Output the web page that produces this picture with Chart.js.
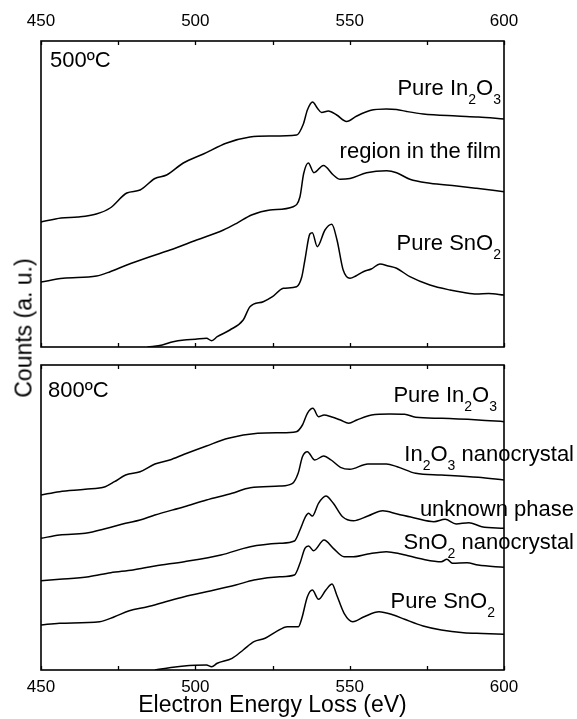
<!DOCTYPE html>
<html><head><meta charset="utf-8">
<script src="https://cdn.jsdelivr.net/npm/chart.js@4.4.0/dist/chart.umd.min.js"></script>
<style>
html,body{margin:0;padding:0;background:#fff;}
#wrap{position:relative;width:577px;height:719px;overflow:hidden;background:#fff;}
canvas{position:absolute;left:0;}
#cTop{top:0}
#cBot{top:356px}
#ylab{position:absolute;left:24px;top:328px;transform:translate(-50%,-50%) rotate(-90deg);font:23px "Liberation Sans",Arial,sans-serif;white-space:nowrap;color:#000;}
</style></head><body>
<div id="wrap">
<canvas id="cTop" width="577" height="356"></canvas>
<canvas id="cBot" width="577" height="363"></canvas>
<div id="ylab">Counts (a. u.)</div>
</div>
<script>
// ---- tick labels ----
const xTickLabels = [450, 500, 550, 600];
const xMin = 450, xMax = 600, xStep = 25;

// ---- 500 °C panel ----
const t500_In2O3_E = [450,456.5,462,467.9,472.4,477.8,482.1,486.9,490.7,496.1,502.6,510.2,517.7,524.2,532.8,535,536.3,538,539.5,540.9,543.1,545.8,549,552.3,556.6,561.9,565.2,568.5,573.8,584.7,591.7,600];
const t500_In2O3   = [125,129,130,133,139,154,157,168.5,172,184,193,204,210,211,212,223,237,245,239,234.5,236,232,225.5,231,236.5,238,237.5,235.5,233,231,230,228];

const t500_film_E = [450,457.2,468,472.4,477.8,485.3,491.8,500.4,509.1,513.4,518.2,524.2,531.7,533.9,535.1,536.6,538.4,541.5,544.7,546.9,550.1,555.5,562,565.2,569.5,576,584.7,591.1,600];
const t500_film   = [65,68.7,71,75.3,82,90.3,97,107,117,123.7,132,137,140.3,150.3,173.5,184,174.3,181.5,172,167.7,168.5,174.3,176.3,174.3,167.7,163.7,161,158.7,155.3];

const t500_SnO2_E = [484.5,489.3,492.8,496.4,500,503.6,505.3,507.1,511.2,515.5,517.7,522,525,528.5,532.8,534.5,535.5,537.1,537.9,539.5,542,544.2,545.9,547.9,550.1,552,554.4,557,559.8,562.5,565.2,569.5,576,582.5,587,591.1,595,600];
const t500_SnO2   = [0,2,5.3,7,7.7,8.7,6.3,10.3,17,27,40.3,45.3,50.3,58.7,60.3,70.3,87,113,114.3,100.3,117,122.7,107,77,68.7,71,75.3,78,83,81,78.7,70.3,62,57,54.5,53,53.5,52];

// ---- 800 °C panel ----
const t800_In2O3_E = [450,456,464.3,470.8,473.8,477.4,482.1,486.9,491.7,496.4,503.6,510.7,520.2,527.4,532.7,534.7,536.3,538.1,539.9,541.7,544,547,549.7,552.3,557.1,563,567.8,571.4,579.8,591.7,600];
const t800_In2O3   = [175,178.3,180.7,183.3,188.3,195,198.3,206,210,215.7,224,231.7,236.7,237.3,238.3,245,256.7,261.7,253.3,255,253.3,250,246.7,250,255,256,255.7,252.7,251.7,250,248.3];

const t800_InNano_E = [450,456,464.3,471.4,477.4,482.1,486.9,496.4,503.6,511.9,517.8,527.4,531.5,533.3,534.7,536.3,538.7,541.6,544,547,550,555.9,561.9,565.4,571.4,579.7,591.6,600];
const t800_InNano   = [131.7,135,136.7,141.7,146.7,150,155,163.3,170,176.7,182.3,184,186.7,196.7,213.3,218.3,210,214,210,202.7,200.7,206,206,203.3,196.7,195,192.7,190];

const t800_unknown_E = [450,456,465.5,472.6,479.8,486.9,496.4,508.3,517.8,527.4,532.1,533.9,535.7,536.7,537.9,539.9,542.3,544.7,547.7,551.2,555.9,560.7,565.4,571.4,577.3,580.9,584.5,588.6,592.8,600];
const t800_unknown   = [89.3,90.7,93.3,97.3,100,104,108.3,115,123.3,126.7,129,140,153.3,156.7,154,166.7,174,166.7,153.3,149.3,154,159.3,156,151.7,148.3,150.7,146,147.3,143.3,141.7];

const t800_SnNano_E = [450,456,469,473.8,478.6,484.5,489.3,496.4,503.6,513.1,519,527.4,532.1,533.9,535.5,536.7,538.3,541.7,544.7,548.2,551.2,555.9,561.9,566.6,573.8,579.7,581.5,583.3,588,591.6,600];
const t800_SnNano   = [45,46.7,48.3,53.3,59.3,63.3,67.3,73.3,78.3,85,90,93.3,95,106.7,121.7,124,119.3,130,121.7,113.3,113.3,116,118.3,116,110.7,108.3,110.7,106.7,107.3,105,102.7];

const t800_SnO2_E = [486.9,492.8,496.4,500,503.6,505.3,507.1,511.9,515.5,519,522.6,526.2,529.8,533.4,534.5,536.3,537.9,539.9,542.3,544.3,545.8,548.2,551,554.7,559.5,564.2,567.8,573.8,579.7,586.9,593,600];
const t800_SnO2   = [0,2.7,4,4.7,5,3.3,6.7,11.7,20,28.3,31.7,38.3,43.3,43.3,51.7,73.3,80,70.7,80,86,75,56.7,48.3,53.3,58.3,55,50.7,44,40,37.3,36.5,35.7];

// ---- helpers ----
function pts(E, V){ return E.map((x,i)=>({x:x, y:V[i]})); }
function ds(E, V){
  return {data: pts(E,V), borderColor:'#000', borderWidth:1.5, pointRadius:0,
          fill:false, cubicInterpolationMode:'monotone'};
}
const FONT = '"Liberation Sans", Arial, sans-serif';

const framePlugin = {
  id:'frame',
  afterDatasetsDraw(chart){
    const {ctx, chartArea:a, scales:{x}} = chart;
    ctx.save();
    ctx.strokeStyle = '#000';
    ctx.lineWidth = 1.3;
    x.ticks.forEach(t=>{
      const px = Math.round(x.getPixelForValue(t.value)) + 0.5;
      ctx.beginPath();
      ctx.moveTo(px, a.top); ctx.lineTo(px, a.top + 4);
      ctx.moveTo(px, a.bottom); ctx.lineTo(px, a.bottom - 4);
      ctx.stroke();
    });
    ctx.lineWidth = 1.6;
    ctx.strokeRect(a.left, a.top, a.right - a.left, a.bottom - a.top);
    ctx.restore();
  }
};

const labelPlugin = {
  id:'specLabels',
  afterDraw(chart, args, opts){
    const {ctx, chartArea:a} = chart;
    ctx.save();
    ctx.fillStyle = '#000';
    ctx.textBaseline = 'alphabetic';
    ctx.textAlign = 'left';
    (opts.items||[]).forEach(it=>{
      const segs = it.segs;
      let w = 0;
      segs.forEach(s=>{ ctx.font = (s[1] ? '14px ' : '22px ') + FONT; w += ctx.measureText(s[0]).width; });
      let x = it.anchor === 'left' ? a.left + it.dx : a.right + it.dx - w;
      const y = a.top + it.dy;
      segs.forEach(s=>{
        ctx.font = (s[1] ? '14px ' : '22px ') + FONT;
        ctx.fillText(s[0], x, s[1] ? y + 9 : y);
        x += ctx.measureText(s[0]).width;
      });
    });
    ctx.restore();
  }
};

function xScale(pos, extra){
  return Object.assign({
    type:'linear', position:pos, min:xMin, max:xMax,
    grid:{display:false, drawTicks:false}, border:{display:false},
    ticks:{stepSize:xStep, autoSkip:false, maxRotation:0, color:'#000',
      font:{family:FONT, size:17},
      callback:(v)=> xTickLabels.includes(v) ? String(v) : ''}
  }, extra);
}

function makeChart(id, datasets, opts){
  return new Chart(document.getElementById(id), {
    type:'line',
    data:{datasets: datasets},
    options:{
      responsive:false, animation:false, devicePixelRatio:1,
      layout:{padding: opts.padding},
      scales:{
        x: opts.x,
        y:{type:'linear', display:false, min:0, max:opts.yMax}
      },
      plugins:{legend:{display:false}, tooltip:{enabled:false},
        specLabels:{items: opts.labels}}
    },
    plugins:[framePlugin, labelPlugin]
  });
}

// top panel (500 °C)
const topX = xScale('top', {afterFit:(s)=>{ s.height = 41; }});
topX.ticks.padding = 9;
makeChart('cTop', [
  ds(t500_In2O3_E, t500_In2O3),
  ds(t500_film_E, t500_film),
  ds(t500_SnO2_E, t500_SnO2)
], {
  padding:{left:41, right:73, top:0, bottom:9},
  x: topX, yMax:306,
  labels:[
    {anchor:'left', dx:9, dy:26, segs:[['500ºC',0]]},
    {anchor:'right', dx:-3, dy:54, segs:[['Pure In',0],['2',1],['O',0],['3',1]]},
    {anchor:'right', dx:-3, dy:117, segs:[['region in the film',0]]},
    {anchor:'right', dx:-3, dy:209, segs:[['Pure SnO',0],['2',1]]}
  ]
});

// bottom panel (800 °C)
const botX = xScale('bottom', {afterFit:(s)=>{ s.height = 49; },
  title:{display:true, text:'Electron Energy Loss (eV)', color:'#000',
         font:{family:FONT, size:23}, padding:{top:0, bottom:0}}});
botX.ticks.padding = 7;
makeChart('cBot', [
  ds(t800_In2O3_E, t800_In2O3),
  ds(t800_InNano_E, t800_InNano),
  ds(t800_unknown_E, t800_unknown),
  ds(t800_SnNano_E, t800_SnNano),
  ds(t800_SnO2_E, t800_SnO2)
], {
  padding:{left:41, right:73, top:9, bottom:0},
  x: botX, yMax:305,
  labels:[
    {anchor:'left', dx:7, dy:32, segs:[['800ºC',0]]},
    {anchor:'right', dx:-7, dy:37, segs:[['Pure In',0],['2',1],['O',0],['3',1]]},
    {anchor:'right', dx:70, dy:96, segs:[['In',0],['2',1],['O',0],['3',1],[' nanocrystal',0]]},
    {anchor:'right', dx:70, dy:151, segs:[['unknown phase',0]]},
    {anchor:'right', dx:70, dy:184, segs:[['SnO',0],['2',1],[' nanocrystal',0]]},
    {anchor:'right', dx:-9, dy:243, segs:[['Pure SnO',0],['2',1]]}
  ]
});
</script>
</body></html>
